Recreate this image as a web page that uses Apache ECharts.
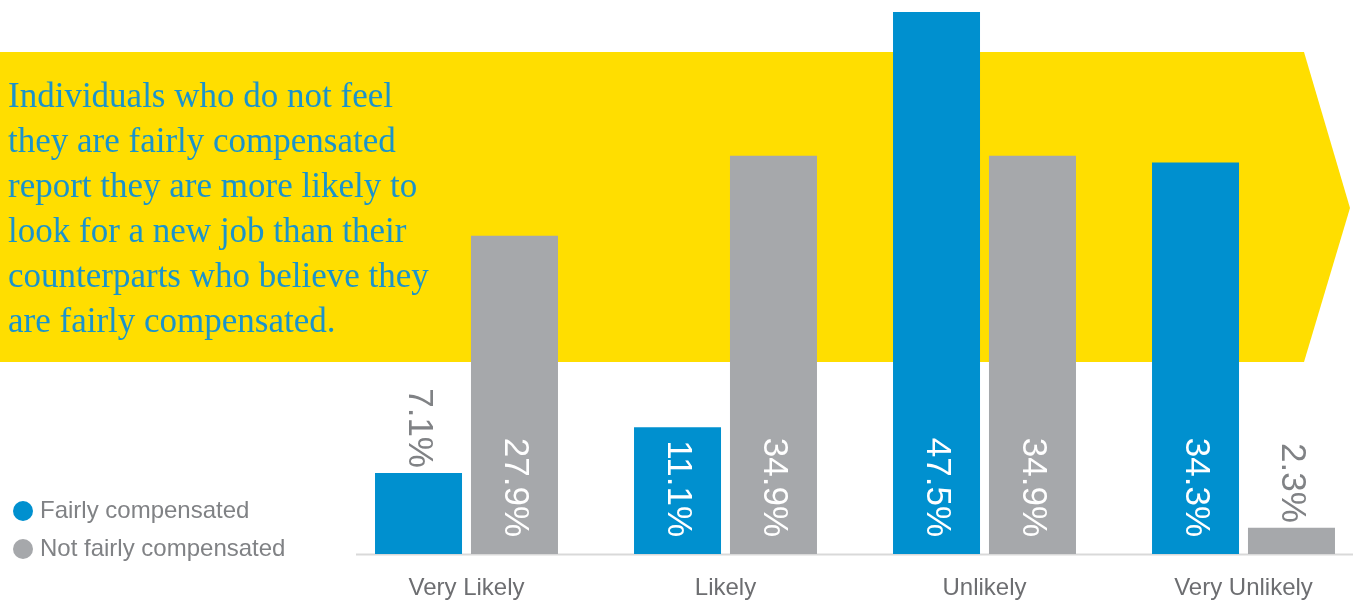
<!DOCTYPE html>
<html>
<head>
<meta charset="utf-8">
<script src="https://cdn.jsdelivr.net/npm/echarts@6/dist/echarts.min.js"></script>
<style>
  html, body { margin: 0; padding: 0; background: #ffffff; }
  #chart { width: 1353px; height: 601px; }
</style>
</head>
<body>
<div id="chart"></div>
<script>
// Likelihood of looking for a new job, by perceived fairness of pay
const categories = ['Very Likely', 'Likely', 'Unlikely', 'Very Unlikely'];
const fairlyCompensated = [7.1, 11.1, 47.5, 34.3];
const notFairlyCompensated = [27.9, 34.9, 34.9, 2.3];
const seriesNames = ['Fairly compensated', 'Not fairly compensated'];
const headline = [
  'Individuals who do not feel',
  'they are fairly compensated',
  'report they are more likely to',
  'look for a new job than their',
  'counterparts who believe they',
  'are fairly compensated.'
];

const BLUE = '#0090cf';
const GREY = '#a6a8ab';
const YELLOW = '#ffde00';
// below this value the percentage sits above the bar instead of inside it
const INSIDE_MIN = 10;

function withLabels(values) {
  return values.map(v => {
    const inside = v >= INSIDE_MIN;
    return {
      value: v,
      label: inside
        ? { position: 'insideBottom', distance: 17, color: '#ffffff' }
        : { position: 'top', distance: 5, color: '#808285' }
    };
  });
}

const baseLabel = {
  show: true,
  rotate: -90,
  align: 'right',
  verticalAlign: 'middle',
  fontFamily: 'Liberation Sans, Arial, sans-serif',
  fontSize: 35,
  formatter: p => p.value.toFixed(1) + '%'
};

const chart = echarts.init(document.getElementById('chart'), null, { renderer: 'canvas' });

chart.setOption({
  animation: false,
  backgroundColor: '#ffffff',
  grid: {
    left: 337, width: 1036, top: 12, bottom: 47,
    containLabel: false,
    outerBoundsMode: 'none'
  },
  graphic: [
    {
      type: 'polygon',
      z: 0,
      shape: { points: [[0, 52], [1304, 52], [1350, 208], [1304, 362], [0, 362]] },
      style: { fill: YELLOW }
    },
    {
      type: 'text',
      z: 1,
      left: 8,
      top: 75,
      style: {
        text: headline.join('\n'),
        fill: '#1a93cc',
        font: '35px "Liberation Serif", "Times New Roman", serif',
        lineHeight: 45
      }
    },
    {
      type: 'line',
      z: 1,
      shape: { x1: 356, y1: 554.5, x2: 1353, y2: 554.5 },
      style: { stroke: '#d9d9d9', lineWidth: 2 }
    }
  ],
  legend: {
    orient: 'vertical',
    left: 13,
    top: 499,
    padding: 0,
    icon: 'circle',
    itemWidth: 20,
    itemHeight: 20,
    itemGap: 14,
    textStyle: {
      fontFamily: 'Liberation Sans, Arial, sans-serif',
      fontSize: 24,
      color: '#808285',
      padding: [0, 0, 0, 2]
    },
    data: seriesNames
  },
  xAxis: {
    type: 'category',
    data: categories,
    axisLine: { show: false },
    axisTick: { show: false },
    axisLabel: {
      margin: 22,
      fontFamily: 'Liberation Sans, Arial, sans-serif',
      fontSize: 24,
      color: '#6d6e71'
    }
  },
  yAxis: {
    type: 'value',
    min: 0,
    max: 47.5,
    show: false,
    splitLine: { show: false }
  },
  series: [
    {
      name: seriesNames[0],
      type: 'bar',
      barWidth: 87,
      barGap: '10.3%',
      itemStyle: { color: BLUE },
      label: baseLabel,
      data: withLabels(fairlyCompensated)
    },
    {
      name: seriesNames[1],
      type: 'bar',
      barWidth: 87,
      barGap: '10.3%',
      itemStyle: { color: GREY },
      label: baseLabel,
      data: withLabels(notFairlyCompensated)
    }
  ]
});
</script>
</body>
</html>
